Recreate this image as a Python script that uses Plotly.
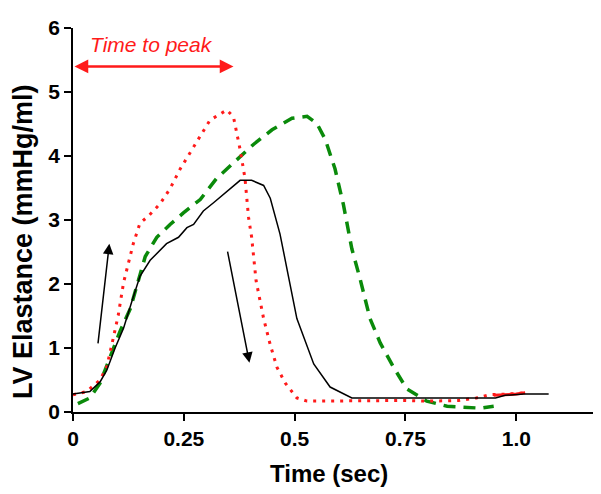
import plotly.graph_objects as go

# Black solid curve
t_black = [0, 0.038, 0.061, 0.076, 0.095, 0.114, 0.132, 0.151, 0.174, 0.211, 0.238, 0.257, 0.272,
           0.294, 0.317, 0.347, 0.377, 0.403, 0.43, 0.445, 0.467, 0.486, 0.505, 0.543, 0.58, 0.629,
           0.953, 0.975, 1.017, 1.073]
e_black = [0.28, 0.32, 0.47, 0.65, 1.0, 1.31, 1.71, 2.12, 2.37, 2.63, 2.73, 2.88, 2.93,
           3.14, 3.27, 3.44, 3.62, 3.62, 3.54, 3.34, 2.78, 2.12, 1.46, 0.75, 0.39, 0.22,
           0.22, 0.26, 0.28, 0.28]

# Red dotted curve
t_red = [0, 0.031, 0.061, 0.076, 0.091, 0.102, 0.114, 0.125, 0.136, 0.151, 0.17, 0.196, 0.219,
         0.242, 0.272, 0.309, 0.347, 0.362, 0.377, 0.388, 0.396, 0.403, 0.413, 0.43, 0.445, 0.46,
         0.479, 0.505, 0.528, 0.75, 0.80, 0.87, 0.91, 0.94, 0.98, 1.02]
e_red = [0.27, 0.32, 0.5, 0.70, 1.16, 1.51, 2.02, 2.32, 2.63, 2.95, 3.06, 3.25, 3.49,
         3.80, 4.15, 4.56, 4.72, 4.61, 4.10, 3.65, 3.04, 2.73, 2.05, 1.46, 1.05, 0.70,
         0.45, 0.22, 0.17, 0.18, 0.17, 0.18, 0.22, 0.27, 0.28, 0.30]

# Red dense tail (appears solid)
t_red_tail = [0.949, 0.98, 1.0, 1.02]
e_red_tail = [0.26, 0.27, 0.28, 0.30]

# Green dashed curve
t_green = [0.011, 0.038, 0.061, 0.084, 0.106, 0.129, 0.147, 0.163, 0.189, 0.219, 0.249, 0.287,
           0.324, 0.37, 0.407, 0.449, 0.494, 0.528, 0.55, 0.569, 0.591, 0.61, 0.629, 0.648, 0.67,
           0.693, 0.723, 0.753, 0.798, 0.844, 0.919, 0.949]
e_green = [0.13, 0.22, 0.45, 0.85, 1.26, 1.61, 2.02, 2.43, 2.73, 2.93, 3.11, 3.32,
           3.65, 3.95, 4.18, 4.41, 4.59, 4.62, 4.51, 4.26, 3.80, 3.24, 2.55, 2.07, 1.46,
           1.08, 0.70, 0.36, 0.17, 0.09, 0.06, 0.09]

x_ticks = [0, 0.25, 0.5, 0.75, 1.0]
x_tick_labels = ["0", "0.25", "0.5", "0.75", "1.0"]
y_ticks = [0, 1, 2, 3, 4, 5, 6]

FONT = "Arial, Liberation Sans, sans-serif"

fig = go.Figure()
fig.add_trace(go.Scatter(x=t_green, y=e_green, mode="lines",
                         line=dict(color="#0a8a0a", width=3.5, dash="12px,8px"), showlegend=False))
fig.add_trace(go.Scatter(x=t_red, y=e_red, mode="lines",
                         line=dict(color="#ff1a1a", width=3, dash="3px,6px"), showlegend=False))
fig.add_trace(go.Scatter(x=t_red_tail, y=e_red_tail, mode="lines",
                         line=dict(color="#ff1a1a", width=3), showlegend=False))
fig.add_trace(go.Scatter(x=t_black, y=e_black, mode="lines",
                         line=dict(color="black", width=1.5), showlegend=False))

annotations = [
    # up arrow
    dict(x=0.082, y=2.63, ax=0.056, ay=1.05, xref="x", yref="y", axref="x", ayref="y",
         showarrow=True, arrowhead=2, arrowsize=1.4, arrowwidth=1.5, arrowcolor="black", text=""),
    # down arrow
    dict(x=0.398, y=0.77, ax=0.348, ay=2.53, xref="x", yref="y", axref="x", ayref="y",
         showarrow=True, arrowhead=2, arrowsize=1.4, arrowwidth=1.5, arrowcolor="black", text=""),
    # time to peak arrow
    dict(x=0.362, y=5.40, ax=0.0, ay=5.40, xref="x", yref="y", axref="x", ayref="y",
         showarrow=True, arrowhead=2, startarrowhead=2, arrowside="end+start",
         arrowsize=1.1, startarrowsize=1.1, arrowwidth=2.5, arrowcolor="#ff1a1a", text=""),
    dict(x=0.178, y=5.74, xref="x", yref="y", text="<i>Time to peak</i>", showarrow=False,
         font=dict(family=FONT, size=21, color="#ff1a1a"), xanchor="center", yanchor="middle"),
    # axis titles
    dict(x=-0.096, y=0.443, xref="paper", yref="paper", text="<b>LV Elastance (mmHg/ml)</b>",
         textangle=-90, showarrow=False, font=dict(family=FONT, size=27, color="black"),
         xanchor="center", yanchor="middle"),
    dict(x=0.4926, y=-0.16, xref="paper", yref="paper", text="<b>Time (sec)</b>",
         showarrow=False, font=dict(family=FONT, size=24, color="black"),
         xanchor="center", yanchor="middle"),
]

# page body has an 8px default margin, so the figure is shifted by 8px
fig.update_layout(
    width=593, height=486,
    margin=dict(l=65, r=8, t=11, b=82),
    plot_bgcolor="white", paper_bgcolor="white",
    annotations=annotations,
    xaxis=dict(range=[0, 1.173], tickvals=x_ticks, ticktext=x_tick_labels,
               showgrid=False, zeroline=False, showline=True, linecolor="black", linewidth=1.5,
               ticks="outside", ticklen=7, tickwidth=1.5, tickcolor="black",
               ticklabeloverflow="allow",
               tickfont=dict(family=FONT, size=21, color="black", weight="bold")),
    yaxis=dict(range=[0, 6], tickvals=y_ticks,
               showgrid=False, zeroline=False, showline=True, linecolor="black", linewidth=1.5,
               ticks="outside", ticklen=7, tickwidth=1.5, tickcolor="black",
               ticklabeloverflow="allow",
               tickfont=dict(family=FONT, size=21, color="black", weight="bold")),
)

fig.write_html("out.html")
